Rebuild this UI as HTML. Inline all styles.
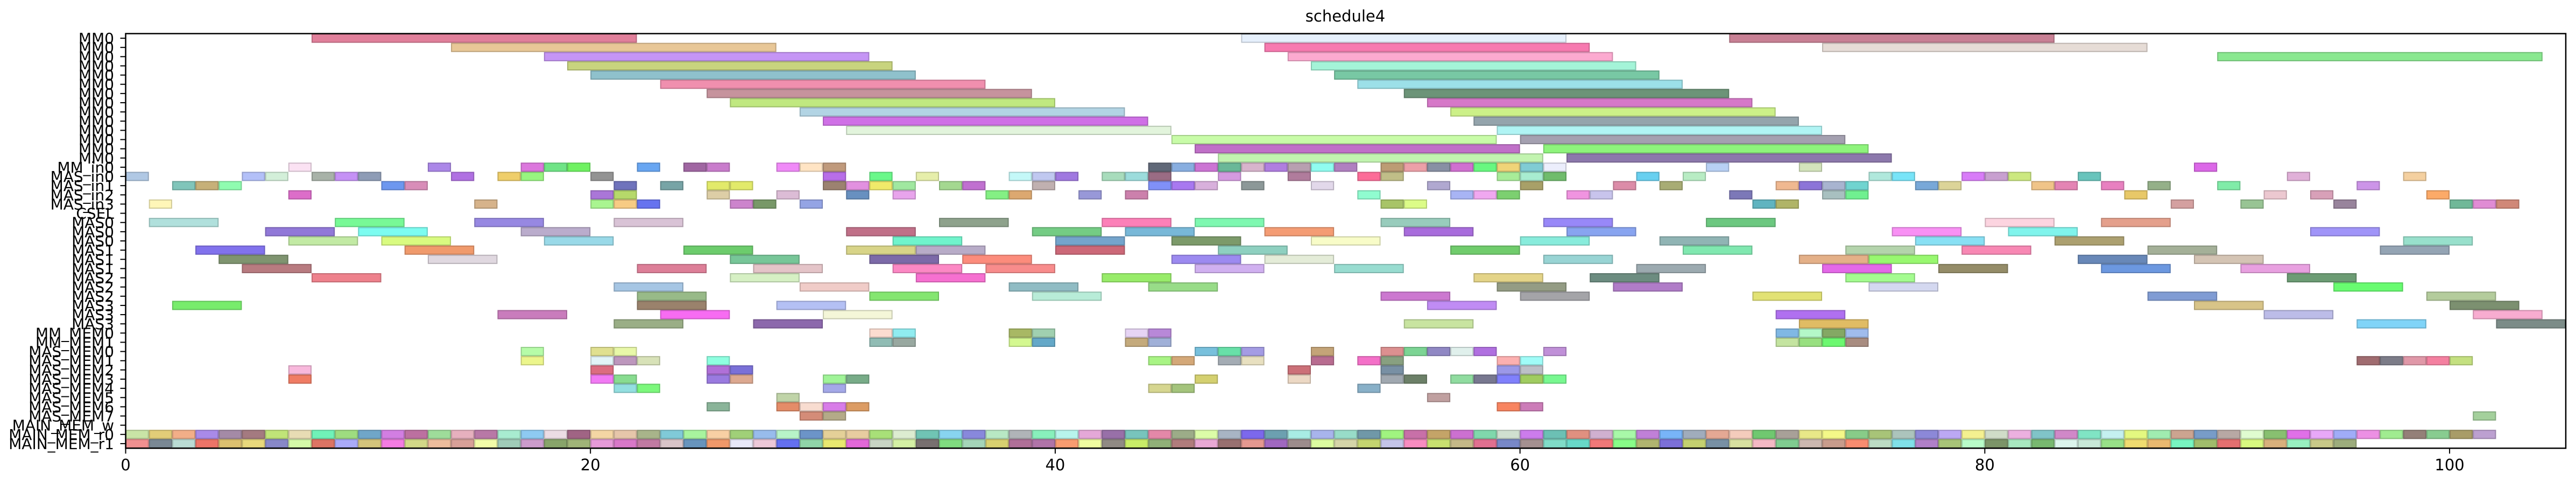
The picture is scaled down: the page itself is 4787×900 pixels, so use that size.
<!DOCTYPE html>
<html><head><meta charset="utf-8"><title>schedule4</title>
<style>html,body{margin:0;padding:0;background:#fff;}svg{display:block;}</style>
</head><body>
<svg id="chart" width="4787" height="900" xmlns="http://www.w3.org/2000/svg" font-family="DejaVu Sans, Liberation Sans, sans-serif">
<text x="2500" y="40" font-size="29" text-anchor="middle">schedule4</text>
<g id="bars"></g>
<g id="axes"></g>
</svg>
<script>
const rowLabels = ["MM0","MM0","MM0","MM0","MM0","MM0","MM0","MM0","MM0","MM0","MM0","MM0","MM0","MM0",
"MM_in0","MAS_in0","MAS_in1","MAS_in2","MAS_in3","CSEL","MAS0","MAS0","MAS0","MAS1","MAS1","MAS1",
"MAS2","MAS2","MAS2","MAS3","MAS3","MAS3","MM_MEM0","MM_MEM1","MAS_MEM0","MAS_MEM1","MAS_MEM2","MAS_MEM3",
"MAS_MEM4","MAS_MEM5","MAS_MEM6","MAS_MEM7","MAIN_MEM_w","MAIN_MEM_r0","MAIN_MEM_r1"];
const xTicks = [0,20,40,60,80,100];
// [row, start, end, color]
const bars = [
[0,8,22,"#e07f9a"],[0,48,62,"#e6f0fc"],[0,69,83,"#c88094"],
[1,14,28,"#e8c797"],[1,49,63,"#f77ab0"],[1,73,87,"#e6dcd6"],
[2,18,32,"#c595f5"],[2,50,64,"#fcaad0"],[2,90,104,"#8ae890"],
[3,19,33,"#c8d47e"],[3,51,65,"#a4f4d8"],
[4,20,34,"#8fc1cc"],[4,52,66,"#78c8a4"],
[5,23,37,"#f08fae"],[5,53,67,"#9ce0e8"],
[6,25,39,"#c6939d"],[6,55,69,"#6c9478"],
[7,26,40,"#c0e880"],[7,56,70,"#d678c8"],
[8,29,43,"#b2d4e4"],[8,57,71,"#ccf088"],
[9,30,44,"#cf70e6"],[9,58,72,"#94a4ac"],
[10,31,45,"#e2f4dc"],[10,59,73,"#b0f4f4"],
[11,45,59,"#c8fca8"],[11,60,74,"#a4a0b0"],
[12,46,60,"#c070c8"],[12,61,75,"#8ef47c"],
[13,47,61,"#c2f4b0"],[13,62,76,"#8c78ac"],
[14,7,8,"#fbe2f3"],[14,13,14,"#ab87e8"],[14,17,18,"#dc77dd"],[14,18,19,"#6fe486"],[14,19,20,"#6ff262"],[14,22,23,"#68a6f2"],[14,24,25,"#a066a2"],[14,25,26,"#c97ccc"],
[14,28,29,"#f08af8"],[14,29,30,"#ffe4c4"],[14,30,31,"#c09a7c"],[14,44,45,"#606878"],[14,45,46,"#88aee0"],[14,46,47,"#cc74d4"],[14,47,48,"#6ab898"],[14,48,49,"#d8b4cc"],[14,49,50,"#b07ee0"],[14,50,51,"#b8a0b0"],[14,51,52,"#90fcf0"],
[14,52,53,"#b080c0"],[14,54,55,"#bc9c74"],[14,55,56,"#eca0a8"],[14,56,57,"#8890a4"],[14,57,58,"#d070d0"],[14,58,59,"#68f880"],[14,59,60,"#f0d478"],[14,60,61,"#80ccd4"],[14,61,62,"#eceefc"],[14,68,69,"#b8d0f4"],[14,72,73,"#d4e4bc"],[14,89,90,"#dc68e8"],
[15,0,1,"#b0c8e4"],[15,5,6,"#b3c0f8"],[15,6,7,"#d3efd9"],[15,8,9,"#a8b2a8"],[15,9,10,"#c591f5"],[15,10,11,"#8e9cb6"],[15,14,15,"#b070e2"],[15,16,17,"#efce6a"],[15,17,18,"#98f580"],[15,20,21,"#939393"],
[15,30,31,"#b86ee8"],[15,32,33,"#6af88a"],[15,34,35,"#e6eeaa"],[15,38,39,"#c4f8f8"],[15,39,40,"#c0c8f0"],[15,40,41,"#a078e0"],[15,42,43,"#a8dcbc"],[15,43,44,"#9cdcdc"],[15,44,45,"#9a6c84"],[15,47,48,"#d49ae0"],[15,50,51,"#b07c9c"],
[15,53,54,"#fc6c98"],[15,54,55,"#c0be88"],[15,59,60,"#a8ec98"],[15,60,61,"#a8ecd0"],[15,61,62,"#70bc6c"],[15,65,66,"#68d0f0"],[15,67,68,"#b8ecc4"],[15,75,76,"#b0e8dc"],[15,76,77,"#78e4f8"],
[15,79,80,"#d87cf8"],[15,80,81,"#c8a0d0"],[15,81,82,"#cce880"],[15,84,85,"#68c4bc"],[15,93,94,"#e0b0d8"],[15,98,99,"#f4d0a0"],
[16,2,3,"#80c5ba"],[16,3,4,"#c6b078"],[16,4,5,"#8ffcb0"],[16,11,12,"#6d97ef"],[16,12,13,"#d88db8"],[16,21,22,"#6f73bc"],[16,23,24,"#77a4a6"],[16,25,26,"#e2ea6a"],[16,26,27,"#e2ea6a"],
[16,30,31,"#9c8270"],[16,31,32,"#e290e0"],[16,32,33,"#f0ea6a"],[16,33,34,"#a0e8a0"],[16,35,36,"#a4d890"],[16,36,37,"#c070d0"],[16,39,40,"#c0b0b0"],[16,44,45,"#8090f8"],[16,45,46,"#a878f0"],[16,46,47,"#d8b0dc"],[16,48,49,"#8c9898"],[16,51,52,"#e2d8ea"],
[16,56,57,"#b0a8d0"],[16,60,61,"#a8a068"],[16,64,65,"#dc8ca8"],[16,66,67,"#a8ac74"],[16,71,72,"#f0b890"],[16,72,73,"#8c74d8"],[16,73,74,"#a8b4d0"],[16,74,75,"#70d4d0"],[16,77,78,"#78a8d8"],[16,78,79,"#dcd498"],
[16,82,83,"#f0c488"],[16,83,84,"#e484b4"],[16,85,86,"#e880c0"],[16,87,88,"#94b088"],[16,90,91,"#80eca8"],[16,96,97,"#cc94e8"],
[17,7,8,"#dc6dc9"],[17,20,21,"#aa76d8"],[17,21,22,"#b6d96a"],[17,25,26,"#ddcea6"],[17,28,29,"#dcbcd6"],[17,31,32,"#6890c0"],[17,33,34,"#e8a4ec"],[17,37,38,"#84f084"],[17,38,39,"#dca870"],[17,41,42,"#9898d8"],[17,43,44,"#cc80ac"],
[17,53,54,"#90fcd0"],[17,57,58,"#a8b4f4"],[17,58,59,"#f0a8f0"],[17,59,60,"#7cd070"],[17,62,63,"#f094e0"],[17,63,64,"#c8c4ec"],[17,69,70,"#7c78b8"],[17,73,74,"#a8c0c0"],[17,74,75,"#70f090"],
[17,86,87,"#e8c868"],[17,92,93,"#ecc8d0"],[17,94,95,"#d8a0b8"],[17,99,100,"#fcaa68"],
[18,1,2,"#fff6b8"],[18,15,16,"#d6b38b"],[18,20,21,"#a9f590"],[18,21,22,"#f7cb84"],[18,22,23,"#6673ef"],[18,26,27,"#cc84cc"],[18,27,28,"#789868"],[18,29,30,"#94a4e4"],
[18,54,55,"#a8c468"],[18,55,56,"#dcfc88"],[18,70,71,"#60b4c0"],[18,71,72,"#b0b468"],[18,88,89,"#d4a0a0"],[18,91,92,"#98c494"],[18,95,96,"#98849c"],[18,100,101,"#70b898"],[18,101,102,"#e08cd4"],[18,102,103,"#d08878"],
[20,1,4,"#b0e0dc"],[20,9,12,"#78f996"],[20,15,18,"#9788e2"],[20,21,24,"#d9c3d6"],[20,35,38,"#8ea28c"],[20,42,45,"#fc80b8"],[20,46,49,"#7ef8b0"],[20,54,57,"#98ccbc"],[20,61,64,"#9888f8"],[20,68,71,"#6cc880"],[20,80,83,"#fcd4e0"],[20,85,88,"#e4a08c"],
[21,6,9,"#9178d8"],[21,10,13,"#7cfcf0"],[21,17,20,"#baaccc"],[21,31,34,"#c07088"],[21,39,42,"#74cc84"],[21,43,46,"#78b8d8"],[21,49,52,"#f49c74"],[21,55,58,"#a86cdc"],[21,62,65,"#88a4f0"],[21,76,79,"#f890f4"],[21,81,84,"#80f4ec"],[21,94,97,"#a094f8"],
[22,7,10,"#c2eaa4"],[22,11,14,"#d9fb80"],[22,18,21,"#99d9e8"],[22,33,36,"#70f4cc"],[22,40,43,"#74a4cc"],[22,45,48,"#7c9a6a"],[22,51,54,"#f8fcc8"],[22,60,63,"#88ecdc"],[22,66,69,"#90b4b4"],[22,77,80,"#88e0f4"],[22,83,86,"#aca070"],[22,98,101,"#98e0cc"],
[23,3,6,"#8172ed"],[23,12,15,"#f09a6c"],[23,24,27,"#6ccc6c"],[23,31,34,"#d8d488"],[23,34,37,"#b8acc8"],[23,40,43,"#cc6878"],[23,47,50,"#8ed0c0"],[23,57,60,"#70cc6c"],[23,67,70,"#80e8b0"],[23,74,77,"#b4d4ac"],[23,79,82,"#f888b4"],[23,87,90,"#a4b098"],[23,97,100,"#94a4b4"],
[24,4,7,"#7f9470"],[24,13,16,"#e0d8e0"],[24,26,29,"#77c698"],[24,32,35,"#7c6aa8"],[24,36,39,"#fc8c7c"],[24,45,48,"#9c8af0"],[24,49,52,"#e4ecd8"],[24,61,64,"#98d4d4"],[24,72,75,"#e4b088"],[24,75,78,"#98f870"],[24,84,87,"#6888b8"],[24,89,92,"#d4c4b4"],
[25,5,8,"#b87b80"],[25,22,25,"#dd7f98"],[25,27,30,"#e4c4c8"],[25,33,36,"#fc88c4"],[25,37,40,"#f88c8c"],[25,46,49,"#d0b0f0"],[25,52,55,"#98dcd0"],[25,65,68,"#9caab0"],[25,73,76,"#e468e8"],[25,78,81,"#948c68"],[25,85,88,"#6c98e0"],[25,91,94,"#e8a0e0"],
[26,8,11,"#ee818c"],[26,26,29,"#d6f0c4"],[26,34,37,"#f670d0"],[26,42,45,"#98ec6a"],[26,58,61,"#e4d488"],[26,63,66,"#6c8c80"],[26,74,77,"#a4fc90"],[26,93,96,"#6c9c74"],
[27,21,24,"#a6c6e4"],[27,29,32,"#f0ccc8"],[27,38,41,"#90bcc4"],[27,44,47,"#98dc88"],[27,59,62,"#949c84"],[27,64,67,"#b07cc8"],[27,75,78,"#d4d8f0"],[27,95,98,"#68fc70"],
[28,22,25,"#98ba88"],[28,32,35,"#84e670"],[28,39,42,"#b8ecd8"],[28,54,57,"#cc78d0"],[28,60,63,"#a4a4a8"],[28,70,73,"#e2e274"],[28,87,90,"#809cd4"],[28,99,102,"#b4cc9c"],
[29,2,5,"#78ec6c"],[29,22,25,"#9a826c"],[29,28,31,"#b4c0f4"],[29,56,59,"#c08cf4"],[29,89,92,"#d8c488"],[29,100,103,"#7c9070"],
[30,16,19,"#c97cbc"],[30,23,26,"#f76cf2"],[30,30,33,"#f4f6d8"],[30,71,74,"#b070f0"],[30,92,95,"#bcbce8"],[30,101,104,"#f8acd0"],
[31,21,24,"#9aae86"],[31,27,30,"#8c68ac"],[31,55,58,"#c8e4a0"],[31,72,75,"#e0bc64"],[31,96,99,"#80d4f8"],[31,102,105,"#7c8c88"],
[32,32,33,"#fcdcd0"],[32,33,34,"#90ecf0"],[32,38,39,"#a8b864"],[32,39,40,"#a0d0b0"],[32,43,44,"#e6d4f4"],[32,44,45,"#b888d8"],[32,71,72,"#80b8e4"],[32,72,73,"#b4f8c8"],[32,73,74,"#84a864"],[32,74,75,"#a0bcec"],
[33,32,33,"#90bcb4"],[33,33,34,"#98a8a0"],[33,38,39,"#d4f890"],[33,39,40,"#64a8c8"],[33,43,44,"#c4aa7c"],[33,44,45,"#a0b0d8"],[33,71,72,"#c4e4a0"],[33,72,73,"#98e080"],[33,73,74,"#6cf870"],[33,74,75,"#a88c80"],
[34,17,18,"#b6fca8"],[34,20,21,"#e0e090"],[34,21,22,"#e8f8a8"],[34,46,47,"#78c0dc"],[34,47,48,"#68e0a8"],[34,48,49,"#a49ce4"],[34,51,52,"#c4a478"],[34,54,55,"#dc9090"],[34,55,56,"#7cd494"],[34,56,57,"#9088c4"],[34,57,58,"#e0f0ec"],[34,58,59,"#b070e0"],[34,61,62,"#c090d8"],
[35,17,18,"#ecf68c"],[35,20,21,"#e2f4f8"],[35,21,22,"#bd97bd"],[35,22,23,"#d8e2b8"],[35,25,26,"#8effe0"],[35,44,45,"#a8f484"],[35,45,46,"#d4a878"],[35,47,48,"#a4acb4"],[35,48,49,"#e8e0c0"],[35,51,52,"#b86c90"],[35,53,54,"#f470c8"],[35,54,55,"#88a080"],[35,59,60,"#fcb0b0"],[35,60,61,"#a0fcf8"],
[35,96,97,"#a06c70"],[35,97,98,"#7c7c88"],[35,98,99,"#e098a8"],[35,99,100,"#f480a0"],[35,100,101,"#c4e080"],
[36,7,8,"#f8b8dc"],[36,20,21,"#dc6c80"],[36,25,26,"#b070d8"],[36,26,27,"#7a70d8"],[36,50,51,"#cc7078"],[36,54,55,"#7890a4"],[36,59,60,"#9c98e8"],[36,60,61,"#bcc0c8"],
[37,7,8,"#f07c64"],[37,20,21,"#f27af4"],[37,21,22,"#88dc90"],[37,25,26,"#9a7ae0"],[37,26,27,"#dca890"],[37,30,31,"#a0f498"],[37,31,32,"#78ac88"],[37,46,47,"#d4d070"],[37,50,51,"#ecd8c4"],[37,54,55,"#a0a8b0"],[37,55,56,"#6c8068"],[37,57,58,"#90dca0"],[37,58,59,"#787890"],[37,59,60,"#8080fc"],[37,60,61,"#a0cc60"],[37,61,62,"#78f890"],
[38,21,22,"#93dfe0"],[38,22,23,"#7cf87c"],[38,30,31,"#a4a8e8"],[38,44,45,"#d6d690"],[38,45,46,"#a4c47c"],[38,53,54,"#88b0c8"],
[39,28,29,"#c0d4a8"],[39,56,57,"#c0a0a0"],
[40,25,26,"#8ab499"],[40,28,29,"#e48c68"],[40,29,30,"#f8dcd0"],[40,30,31,"#d87ce8"],[40,31,32,"#dc9c64"],[40,59,60,"#f88460"],[40,60,61,"#cc7cb8"],
[41,29,30,"#d48c78"],[41,30,31,"#b4aa88"],[41,101,102,"#a4d09c"]
];
// MAIN_MEM_r0 / r1: one-unit cells starting at 0
const r0Colors = ["#c9e4a6","#e2cd78","#f2ae88","#a98ae8","#a48aa6","#a47a80","#c0e478","#e8dcb4","#70f2b8","#9edc80","#70a6c8","#d27ee2","#bc70a0","#9edc9a","#e6b0be","#b878a6","#a8ecd0","#8ecaf2","#ecdce4","#a06484","#f4d6a4","#e6c6aa","#a8b48a","#80cad8","#a8f49e","#f8d0a4",
"#a0d078","#98bcec","#b8f4c8","#6c94c8","#e4d098","#e8cca0","#a8e078","#dcecd0","#70c4b4","#88d4f0","#8888dc","#b8e8c4","#b0b4b8","#88f0bc","#b8f4ec","#e4a8d8","#9870a8","#78c4bc","#e488a8","#9cac88","#dcfca8","#a8b4c4","#7c68ec","#6ca0b0","#a8ece4",
"#a8b4ec","#98dcc8","#7098a8","#a0f480","#c870a8","#c4a468","#cc70d0","#80d8ac","#d0e0d0","#cc7cec","#6cc0b4","#e09080","#d0b0d0","#a8f8a8","#c080d8","#78b4f8","#a0acbc","#e4a894","#f4ccbc","#70c870","#a8a098","#e8e888","#f4f888","#88cc88","#a8c478","#acc4bc",
"#8c88d8","#bca8f4","#f4f090","#d0dcc8","#ecb0e0","#80c4c8","#d088c8","#80e4c4","#c4f0f0","#e4f880","#a0ecb0","#cca490","#789cc8","#b8a8a4","#e0fcd0","#88c070","#e070e8","#e8a8f8","#a0acf8","#ec90e4","#a0ec90","#948078","#88cc90","#a89c68","#bca0d0"];
const r1Colors = ["#f09090","#7a8894","#badcd4","#ec7468","#dcc070","#e8d87c","#8888c8","#d4f8a8","#dc7464","#aaaaf8","#d4c47c","#f47ce2","#d2d888","#ecbc9c","#d8a098","#f2fca8","#a0ccb8","#cc9ccc","#88a46a","#a0b478","#e69ad8","#d878c8","#c07aa2","#d8c4c8","#6894bc","#f0986a","#e8e8f8",
"#ecc8d8","#6470f0","#90d4a8","#e8e870","#e268d8","#c8d4c4","#d4f0a4","#787070","#80dc80","#a4d4b8","#d8d070","#b07098","#b074a8","#f89c70","#f0fca0","#908a84","#c8ec68","#90b078","#b07c7c","#e8a8d4","#987070","#e49890","#a068c0","#9c8c8c","#dcfca0",
"#d4d4a8","#c4d470","#c4c4e8","#f88cc0","#c8e070","#c4b888","#e07090","#7888c8","#a49090","#80dcc8","#68d8c8","#f07878","#88fc88","#b0b470","#7c70d8","#c4d070","#7890a4","#d8e0a0","#f4b8c4","#80cc90","#ccb8b0","#c89c8c","#f88c70","#bcdcc4","#80e0e8","#b080c8",
"#a8c478","#b8fcc8","#7c9468","#a8e8c0","#78b870","#dcf4ec","#c8e8d8","#98e088","#f0dc70","#e8b870","#78f4c0","#a0bc6c","#e47070","#d8f880","#d8b07c","#98f0c0","#c8c888","#9cac7c"];

const NS = "http://www.w3.org/2000/svg";
const L = 233.5, R = 4768, T = 62.5, B = 833.5;
const xMin = 0, xMax = 105;
const nRows = rowLabels.length;
const pitch = (B - T) / nRows;
function xs(v){ return L + (v - xMin) / (xMax - xMin) * (R - L); }
function yc(r){ return T + (r + 0.5) * pitch; }
function darker(hex){
  const n = parseInt(hex.slice(1),16);
  const f = c => Math.round(c*0.82).toString(16).padStart(2,'0');
  return '#' + f((n>>16)&255) + f((n>>8)&255) + f(n&255);
}
const barsG = document.getElementById('bars');
function addBar(row, s, e, col){
  const r = document.createElementNS(NS,'rect');
  r.setAttribute('x', xs(s)+1);
  r.setAttribute('y', yc(row)-pitch/2+1);
  r.setAttribute('width', xs(e)-xs(s)-2);
  r.setAttribute('height', pitch-2);
  r.setAttribute('fill', col);
  r.setAttribute('stroke', darker(col));
  r.setAttribute('stroke-width', 2);
  
  
  barsG.appendChild(r);
}
bars.forEach(b => addBar(b[0], b[1], b[2], b[3]));
r0Colors.forEach((c,i) => addBar(43, i, i+1, c));
r1Colors.forEach((c,i) => addBar(44, i, i+1, c));

const ax = document.getElementById('axes');
const frame = document.createElementNS(NS,'rect');
frame.setAttribute('x', L); frame.setAttribute('y', T);
frame.setAttribute('width', R-L); frame.setAttribute('height', B-T);
frame.setAttribute('fill','none'); frame.setAttribute('stroke','#000'); frame.setAttribute('stroke-width', 2.5);


ax.appendChild(frame);
rowLabels.forEach((lab,i) => {
  const y = yc(i);
  const t = document.createElementNS(NS,'line');
  t.setAttribute('x1', L-10); t.setAttribute('x2', L); t.setAttribute('y1', y); t.setAttribute('y2', y);
  t.setAttribute('stroke','#000'); t.setAttribute('stroke-width', 2);
  
  
  ax.appendChild(t);
  const tx = document.createElementNS(NS,'text');
  tx.setAttribute('x', 212); tx.setAttribute('y', y + 10);
  tx.setAttribute('font-size', 28); tx.setAttribute('text-anchor','end');
  tx.textContent = lab;
  
  
  ax.appendChild(tx);
});
xTicks.forEach(v => {
  const x = xs(v);
  const t = document.createElementNS(NS,'line');
  t.setAttribute('x1', x); t.setAttribute('x2', x); t.setAttribute('y1', B); t.setAttribute('y2', B+10);
  t.setAttribute('stroke','#000'); t.setAttribute('stroke-width', 2);
  
  
  ax.appendChild(t);
  const tx = document.createElementNS(NS,'text');
  tx.setAttribute('x', x); tx.setAttribute('y', B + 41);
  tx.setAttribute('font-size', 29); tx.setAttribute('text-anchor','middle');
  tx.textContent = v;
  
  
  ax.appendChild(tx);
});
</script>
</body></html>
